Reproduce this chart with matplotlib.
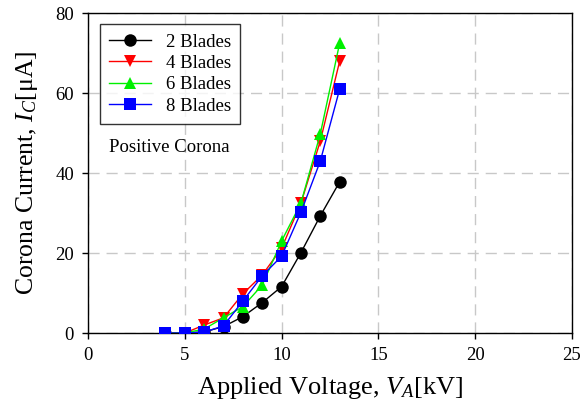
import matplotlib.pyplot as plt
import numpy as np

# Datos
voltage = [4, 5, 6, 7, 8, 9, 10, 11, 12, 13]
blades_2 = [0, 0, 0.3, 1.6, 4.1, 7.6, 11.6, 20.1, 29.3, 37.8]
blades_4 = [0, 0, 2.0, 3.8, 9.8, 14.5, 21.2, 32.5, 48.0, 68.0]
blades_6 = [0, 0, 1.0, 3.8, 6.6, 12.0, 23.0, 32.5, 49.8, 72.5]
blades_8 = [0, 0, 0.2, 1.8, 8.0, 14.3, 19.2, 30.2, 43.0, 61.0]

series = [
    ("2 Blades", blades_2, "black", "o"),
    ("4 Blades", blades_4, "red", "v"),
    ("6 Blades", blades_6, "#00f000", "^"),
    ("8 Blades", blades_8, "blue", "s"),
]

plt.rcParams["font.family"] = ["Liberation Serif", "DejaVu Serif"]
plt.rcParams["mathtext.fontset"] = "custom"
plt.rcParams["mathtext.it"] = "Liberation Serif:italic"
plt.rcParams["mathtext.rm"] = "Liberation Serif"

fig = plt.figure(figsize=(5.8, 4.12), dpi=100)
ax = fig.add_axes([0.1517, 0.1917, 0.8345, 0.7765])

for label, values, color, marker in series:
    ax.plot(voltage, values, color=color, marker=marker, markersize=9,
            linewidth=1, markeredgewidth=0, label=label, zorder=3)

ax.set_xlim(0, 25)
ax.set_ylim(0, 80)
ax.set_xticks(np.arange(0, 26, 5))
ax.set_yticks(np.arange(0, 81, 20))
ax.tick_params(direction="out", length=4, labelsize=13.5, width=1, pad=6)

ax.grid(True, linestyle=(0, (8, 5)), color="#c8c8c8", linewidth=1)
ax.set_axisbelow(True)

for spine in ax.spines.values():
    spine.set_linewidth(1)

ax.set_xlabel("Applied Voltage, $V_A$[kV]", fontsize=19, labelpad=8)
ax.set_ylabel("Corona Current, $I_C$[μA]", fontsize=18.5, labelpad=11)

legend = ax.legend(loc="upper left", bbox_to_anchor=(0.025, 0.965), fontsize=13.5,
                   frameon=True, fancybox=False, edgecolor="black",
                   handlelength=2.2, handletextpad=0.8, borderpad=0.5,
                   labelspacing=0.22, borderaxespad=0)
legend.get_frame().set_linewidth(1)

ax.text(0.043, 0.565, "Positive Corona", transform=ax.transAxes, fontsize=13.5)

fig.savefig("out.png", dpi=100)
plt.close(fig)
